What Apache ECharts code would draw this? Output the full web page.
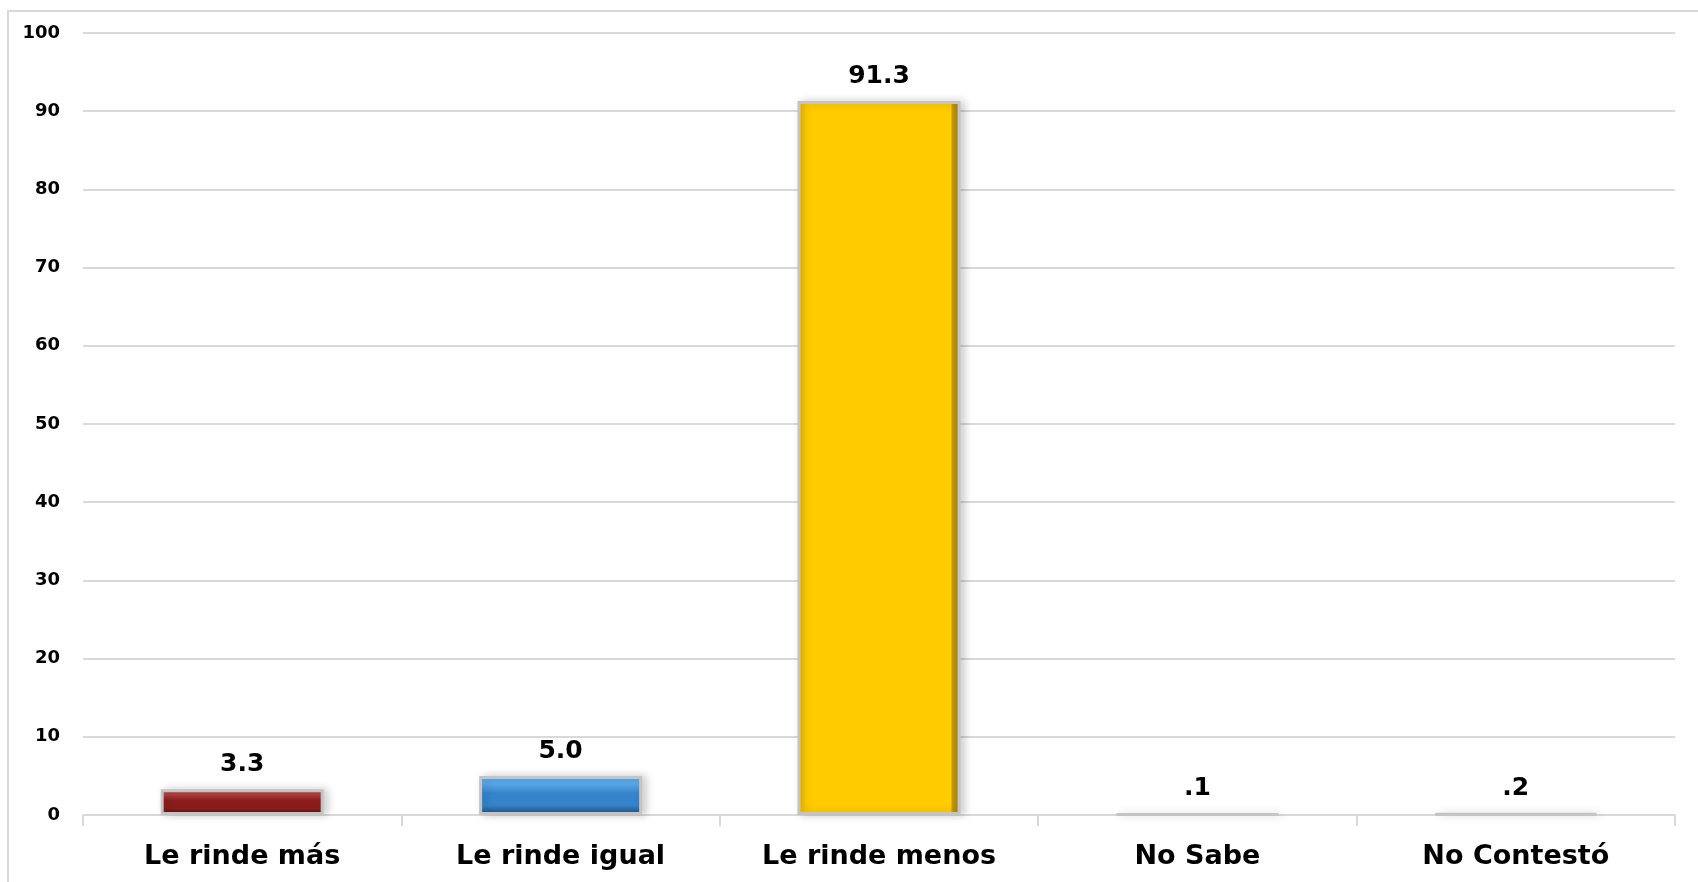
<!DOCTYPE html>
<html>
<head>
    <meta charset="utf-8" />
    <title></title>
    <style>
        html, body { margin: 0; padding: 0; background: #fff; }
        #main { width: 1698px; height: 882px; }
    </style>
</head>
<body>
    <div id="main"></div>
    <script src="https://cdn.jsdelivr.net/npm/echarts@6/dist/echarts.min.js"></script>
    <script>
        var categories = ['Le rinde más', 'Le rinde igual', 'Le rinde menos', 'No Sabe', 'No Contestó'];
        var values = [3.3, 5.0, 91.3, 0.1, 0.2];
        var yTicks = [0, 10, 20, 30, 40, 50, 60, 70, 80, 90, 100];

        // bevel look: short bars shade top->bottom, the tall one left->right
        function vGrad(top, mid, bottom) {
            return new echarts.graphic.LinearGradient(0, 0, 0, 1, [
                { offset: 0, color: top },
                { offset: 0.2, color: top },
                { offset: 0.45, color: mid },
                { offset: 0.75, color: mid },
                { offset: 1, color: bottom }
            ]);
        }
        var barColors = [
            vGrad('#b04040', '#8c1c1c', '#4a1010'),
            vGrad('#5aa8e8', '#3584cc', '#1f4f80'),
            new echarts.graphic.LinearGradient(0, 0, 1, 0, [
                { offset: 0, color: '#e8b000' },
                { offset: 0.04, color: '#f5c200' },
                { offset: 0.05, color: '#ffcc00' },
                { offset: 0.94, color: '#ffcc00' },
                { offset: 0.95, color: '#c49a00' },
                { offset: 1, color: '#9a7800' }
            ]),
            '#e6e6e6',
            '#e6e6e6'
        ];

        var chart = echarts.init(document.getElementById('main'));

        var seriesData = values.map(function (v, i) {
            return {
                value: v,
                itemStyle: { color: barColors[i] }
            };
        });

        var option = {
            animation: false,
            backgroundColor: '#fff',
            graphic: [{
                type: 'rect',
                shape: { x: 8, y: 11, width: 1720, height: 900 },
                style: { fill: 'none', stroke: '#d9d9d9', lineWidth: 2 },
                silent: true
            }],
            grid: { left: 83, right: 23, top: 33, bottom: 67 },
            xAxis: {
                type: 'category',
                data: categories,
                axisLine: { show: true, lineStyle: { color: '#d9d9d9', width: 2 } },
                axisTick: { show: true, length: 11, lineStyle: { color: '#d9d9d9', width: 2 } },
                axisLabel: {
                    color: '#000',
                    fontFamily: 'DejaVu Sans',
                    fontWeight: 'bold',
                    fontSize: 27,
                    margin: 28
                }
            },
            yAxis: {
                type: 'value',
                min: yTicks[0],
                max: yTicks[yTicks.length - 1],
                interval: 10,
                axisLine: { show: false },
                axisTick: { show: false },
                splitLine: { lineStyle: { color: '#d9d9d9', width: 2 } },
                axisLabel: {
                    color: '#000',
                    fontFamily: 'DejaVu Sans',
                    fontWeight: 'bold',
                    fontSize: 18,
                    margin: 23
                }
            },
            series: [{
                type: 'bar',
                data: seriesData,
                barWidth: 163,
                itemStyle: {
                    borderColor: '#c4c4c4',
                    borderWidth: 3,
                    shadowColor: 'rgba(0,0,0,0.18)',
                    shadowBlur: 8,
                    shadowOffsetX: 4
                },
                label: {
                    show: true,
                    position: 'top',
                    distance: 12,
                    color: '#000',
                    fontFamily: 'DejaVu Sans',
                    fontWeight: 'bold',
                    fontSize: 25,
                    formatter: function (p) {
                        return p.value.toFixed(1).replace(/^0\./, '.');
                    }
                }
            }]
        };

        chart.setOption(option);
    </script>
</body>
</html>
